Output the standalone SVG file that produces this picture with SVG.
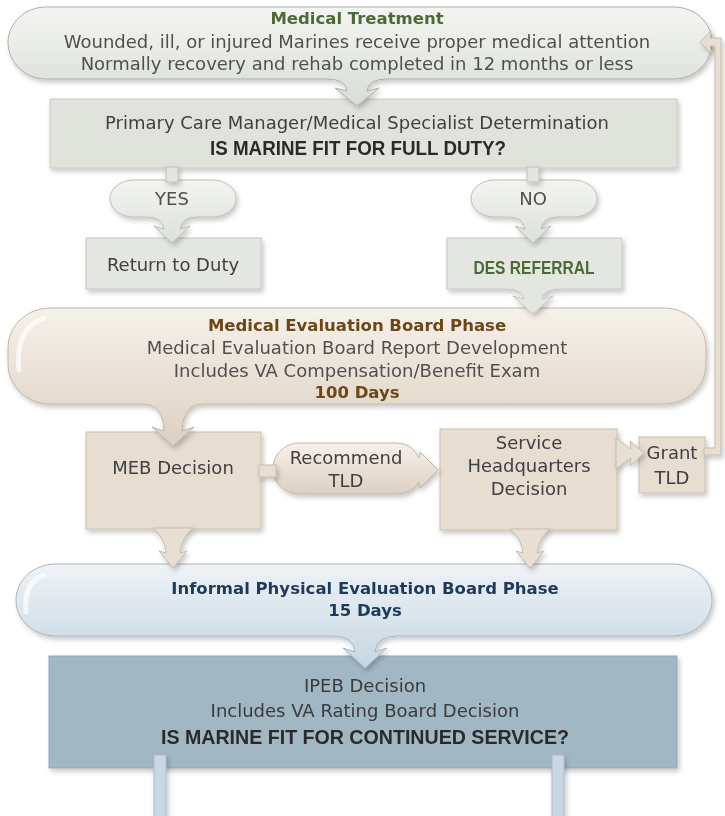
<svg xmlns="http://www.w3.org/2000/svg" width="725" height="816" viewBox="0 0 725 816">
<defs>
<filter id="sh" x="-10%" y="-10%" width="125%" height="140%"><feDropShadow dx="2" dy="3" stdDeviation="2.5" flood-color="#000" flood-opacity="0.22"/></filter>
<linearGradient id="gGreen" x1="0" y1="0" x2="0" y2="1"><stop offset="0" stop-color="#f4f5f2"/><stop offset="1" stop-color="#d8ddd5"/></linearGradient>
<linearGradient id="gTan" x1="0" y1="0" x2="0" y2="1"><stop offset="0" stop-color="#f6f1ea"/><stop offset="1" stop-color="#dcd0c2"/></linearGradient>
<linearGradient id="gBlue" x1="0" y1="0" x2="0" y2="1"><stop offset="0" stop-color="#eef3f7"/><stop offset="1" stop-color="#c6d6e1"/></linearGradient>
<linearGradient id="gSmall" x1="0" y1="0" x2="0" y2="1"><stop offset="0" stop-color="#f2f4f0"/><stop offset="1" stop-color="#dde1da"/></linearGradient>
</defs>
<style>
.t{font-family:"DejaVu Sans",sans-serif;font-size:18px;fill:#505050;text-anchor:middle}
.h{font-family:"DejaVu Sans",sans-serif;font-size:16.5px;font-weight:bold;text-anchor:middle}
.c{font-family:"Liberation Sans",Arial,sans-serif;font-weight:bold;text-anchor:middle;fill:#2a2a2a}
.green{fill:#4c6a36}.brown{fill:#6b4719}.navy{fill:#1f3a5b}
.bg{fill:url(#gGreen);stroke:#aab1a6;stroke-width:1}
.bt{fill:url(#gTan);stroke:#c4b6a4;stroke-width:1}
.bb{fill:url(#gBlue);stroke:#a3b7c6;stroke-width:1}
.bs{fill:url(#gSmall);stroke:#b9bfb5;stroke-width:1}
.xg{fill:#dfe3dc;stroke:#c9cec5;stroke-width:1}
.xs{fill:#e4e7e1;stroke:#c3c8bf;stroke-width:1}
.xt{fill:#e7ddd1;stroke:#cdbfae;stroke-width:1}
.xb{fill:#a2b7c4;stroke:#93a9b8;stroke-width:1}
.ct{fill:#e8dfd3;stroke:#c9bba9;stroke-width:1}
.cg{fill:#e2e6df;stroke:#bcc2b8;stroke-width:1}
.cb{fill:#c8d7e2;stroke:#a8bccb;stroke-width:1}
.hl{fill:none;stroke:#ffffff;stroke-width:5;stroke-linecap:round;opacity:0.7}
</style>

<g id="ipeb-decision" filter="url(#sh)">
<rect class="xb" x="49" y="656" width="628" height="112"/>
<text class="t" x="365" y="691.5" style="fill:#3a3a3a">IPEB Decision</text>
<text class="t" x="365" y="716.5" style="fill:#3a3a3a">Includes VA Rating Board Decision</text>
<text class="c" x="365" y="744" font-size="20" textLength="408" lengthAdjust="spacingAndGlyphs">IS MARINE FIT FOR CONTINUED SERVICE?</text>
</g>

<g id="ipeb-phase" filter="url(#sh)">
<path class="bb" d="M 56 564 H 672 C 694 564 712 580 712 600 C 712 620 694 636 672 636 H 397 Q 376 636 375 652 L 387 648 L 365 668 L 343 648 L 355 652 Q 354 636 333 636 H 56 C 34 636 16 620 16 600 C 16 580 34 564 56 564 Z"/>
<path class="hl" d="M 26 612 C 24 592 30 580 44 575"/>
<text class="h navy" x="365" y="594">Informal Physical Evaluation Board Phase</text>
<text class="h navy" x="365" y="616">15 Days</text>
</g>

<g id="meb-decision" filter="url(#sh)">
<rect class="xt" x="86" y="432" width="175" height="97"/>
<text class="t" x="173" y="473.5" style="fill:#3f3f3f">MEB Decision</text>
</g>

<g id="service-hq" filter="url(#sh)">
<rect class="xt" x="440" y="429" width="177" height="101"/>
<text class="t" x="529" y="448.5" style="fill:#3f3f3f">Service</text>
<text class="t" x="529" y="471.5" style="fill:#3f3f3f">Headquarters</text>
<text class="t" x="529" y="494.5" style="fill:#3f3f3f">Decision</text>
</g>

<g id="grant-tld" filter="url(#sh)">
<rect class="xt" x="639" y="437" width="66" height="56"/>
<text class="t" x="672" y="458.5" style="fill:#3f3f3f">Grant</text>
<text class="t" x="672" y="483.5" style="fill:#3f3f3f">TLD</text>
</g>

<g id="recommend-tld" filter="url(#sh)">
<path class="bt" d="M 300 443 H 396 Q 412 443 419 458 L 420 452 L 438 470 L 420 488 L 419 482 Q 412 494 396 494 H 300 C 285 494 273 483 273 468.5 C 273 454 285 443 300 443 Z"/>
<text class="t" x="346" y="463.5" style="fill:#3f3f3f">Recommend</text>
<text class="t" x="346" y="486.5" style="fill:#3f3f3f">TLD</text>
</g>

<g id="meb-phase" filter="url(#sh)">
<path class="bt" d="M 50 308 H 664 C 687 308 706 326 706 348 V 364 C 706 386 687 404 664 404 H 203 Q 183 404 182 431 L 194 427 L 173 446 L 152 427 L 164 431 Q 163 404 143 404 H 50 C 27 404 8 386 8 364 V 348 C 8 326 27 308 50 308 Z"/>
<path class="hl" d="M 19 370 C 16 342 24 325 44 318"/>
<text class="h brown" x="357" y="331">Medical Evaluation Board Phase</text>
<text class="t" x="357" y="353.5">Medical Evaluation Board Report Development</text>
<text class="t" x="357" y="376.5">Includes VA Compensation/Benefit Exam</text>
<text class="h brown" x="357" y="398">100 Days</text>
</g>

<g id="return-to-duty" filter="url(#sh)">
<rect class="xs" x="86" y="238" width="175" height="51"/>
<text class="t" x="173" y="270.5" style="fill:#3f3f3f">Return to Duty</text>
</g>

<g id="des-referral" filter="url(#sh)">
<path class="xs" d="M 447 238 H 622 V 289 H 561 Q 543 289 542 299 L 553 296 L 533 314 L 513 296 L 524 299 Q 523 289 505 289 H 447 Z"/>
<text class="c green" x="534" y="274" font-size="19" textLength="121" lengthAdjust="spacingAndGlyphs">DES REFERRAL</text>
</g>

<g id="yes" filter="url(#sh)">
<path class="bs" d="M 134 180 H 212 C 225 180 236 188 236 198.5 C 236 209 225 217 212 217 H 196 Q 182 217 180 229 L 190 226 L 172 243 L 154 226 L 164 229 Q 162 217 148 217 H 134 C 121 217 110 209 110 198.5 C 110 188 121 180 134 180 Z"/>
<text class="t" x="172" y="204.5" font-size="17">YES</text>
</g>

<g id="no" filter="url(#sh)">
<path class="bs" d="M 495 180 H 573 C 586 180 597 188 597 198.5 C 597 209 586 217 573 217 H 557 Q 543 217 541 229 L 551 226 L 533 243 L 515 226 L 525 229 Q 523 217 509 217 H 495 C 482 217 471 209 471 198.5 C 471 188 482 180 495 180 Z"/>
<text class="t" x="533" y="204.5" font-size="17">NO</text>
</g>

<g id="primary-care" filter="url(#sh)">
<rect class="xg" x="50" y="99" width="627" height="69"/>
<text class="t" x="357" y="128.5" style="fill:#3f3f3f">Primary Care Manager/Medical Specialist Determination</text>
<text class="c" x="358" y="155" font-size="20" textLength="296" lengthAdjust="spacingAndGlyphs">IS MARINE FIT FOR FULL DUTY?</text>
</g>

<g id="medical-treatment" filter="url(#sh)">
<path class="bg" d="M 46 7 H 674 C 695 7 712 23 712 42.5 C 712 62 695 79 674 79 H 387 Q 368 79 367 91 L 379 88 L 357 106 L 335 88 L 347 91 Q 346 79 327 79 H 46 C 25 79 8 62 8 42.5 C 8 23 25 7 46 7 Z"/>
<text class="h green" x="357" y="24">Medical Treatment</text>
<text class="t" x="357" y="47.5">Wounded, ill, or injured Marines receive proper medical attention</text>
<text class="t" x="357" y="69.5">Normally recovery and rehab completed in 12 months or less</text>
</g>

<g id="connectors" filter="url(#sh)">
<rect class="cg" x="166" y="167" width="12" height="15"/>
<rect class="cg" x="527" y="167" width="12" height="15"/>
<rect class="ct" x="259" y="465" width="17" height="12"/>
<path class="ct" d="M 616 438 Q 629 448 631 449 L 630 441 L 644 453 L 630 466 L 631 458 Q 629 459 616 469 Z"/>
<path class="ct" d="M 153 528 Q 165 538 166 553 L 159 551 L 173 568 L 187 551 L 180 553 Q 181 538 193 528 Z"/>
<path class="ct" d="M 510 529 Q 522 539 523 553 L 516 551 L 530 568 L 544 551 L 537 553 Q 538 539 550 529 Z"/>
<path class="ct" d="M 700 42 L 711 31 L 710 38 L 721 38 L 721 455 L 704 455 L 704 448 L 715 448 L 715 46 L 710 46 L 711 53 Z"/>
<rect class="cb" x="154" y="755" width="12" height="62"/>
<rect class="cb" x="552" y="755" width="12" height="62"/>
</g>
</svg>
